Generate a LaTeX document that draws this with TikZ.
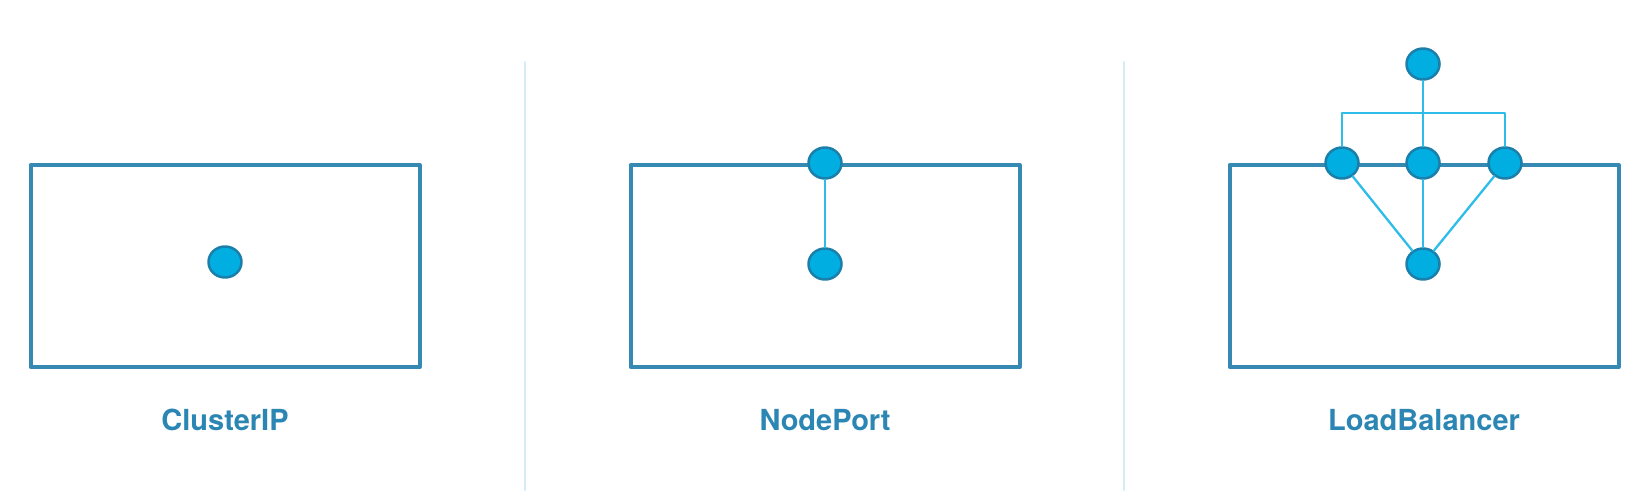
\documentclass[tikz,border=0pt]{standalone}
\usepackage{fontspec}
\setmainfont{TeX Gyre Heros}
\usetikzlibrary{shapes.geometric}
\definecolor{boxblue}{HTML}{3589B2}
\definecolor{podfill}{HTML}{00AEE1}
\definecolor{podline}{HTML}{1B7FAA}
\definecolor{wireblue}{HTML}{2DBDE8}
\definecolor{sepblue}{HTML}{D6ECF4}
\definecolor{labelblue}{HTML}{2C86B4}

\begin{document}
\begin{tikzpicture}[line cap=round,line join=round,x=1pt,y=-1pt,
  hostbox/.style={draw=boxblue,line width=4pt,minimum width=389pt,minimum height=202pt,inner sep=0pt},
  pod/.style={ellipse,draw=podline,fill=podfill,line width=2.5pt,minimum width=33pt,minimum height=31pt,inner sep=0pt},
  wire/.style={draw=wireblue,line width=2.3pt},
  caption/.style={text=labelblue,font=\fontsize{29}{33}\selectfont\bfseries}]
\useasboundingbox (0,0) rectangle (1648,498);
% separators
\draw [sepblue, line width=2pt] (525,62)--(525,490);
\draw [sepblue, line width=2pt] (1124,62)--(1124,490);
% ClusterIP
\node [hostbox] (cbox) at (225,266) {};
\node [pod] (cpod) at (225,262) {};
\node [caption] (clabel) at (225,420) {ClusterIP};
% NodePort
\node [hostbox] (nbox) at (825,266) {};
\node [pod] (ntop) at (825,163) {};
\node [pod] (npod) at (825,264) {};
\draw [wire] (ntop)--(npod);
\node [caption] (nlabel) at (825,420) {NodePort};
% LoadBalancer
\node [hostbox] (lbox) at (1424,266) {};
\node [pod] (lbtop) at (1423,64) {};
\node [pod] (lbl) at (1342,163) {};
\node [pod] (lbm) at (1423,163) {};
\node [pod] (lbr) at (1505,163) {};
\node [pod] (lbpod) at (1423,264) {};
\coordinate (bar) at (1423,113);
\draw [wire] (lbtop)--(lbm);
\draw [wire] (lbl.north)--(lbl.north |- bar)--(lbr.north |- bar)--(lbr.north);
\draw [wire] (lbl)--(lbpod);
\draw [wire] (lbm)--(lbpod);
\draw [wire] (lbr)--(lbpod);
\node [caption] (llabel) at (1424,420) {LoadBalancer};
\end{tikzpicture}
\end{document}
